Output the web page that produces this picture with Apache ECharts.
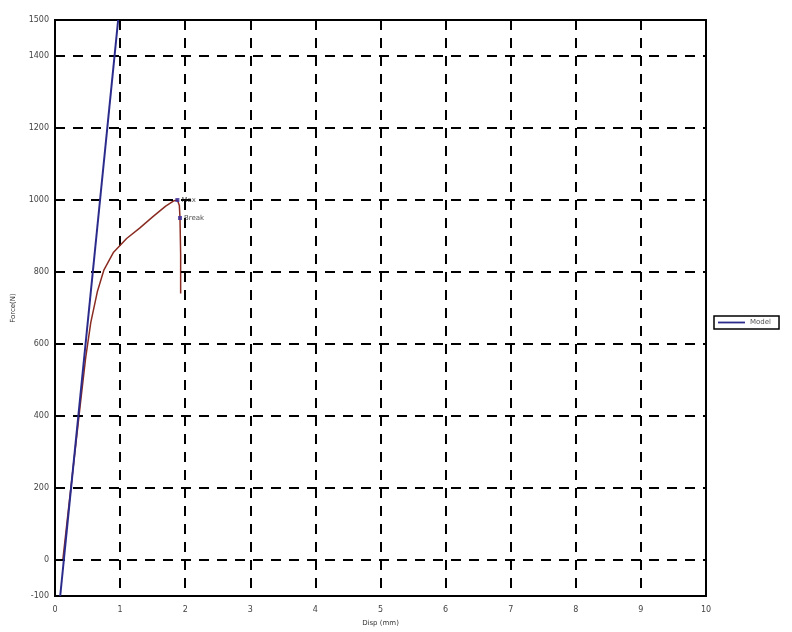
<!DOCTYPE html>
<html>
<head>
<meta charset="utf-8">
<script src="https://cdn.jsdelivr.net/npm/echarts@6/dist/echarts.min.js"></script>
<style>html,body{margin:0;padding:0;background:#fff}#c{width:792px;height:632px}</style>
</head>
<body>
<div id="c"></div>
<script>
// Data
const slopeLine = [[0.08, -100], [0.97, 1500]];
const testCurve = [
  [0.12, 0], [0.2, 130], [0.3, 290], [0.4, 450], [0.47, 560], [0.55, 660],
  [0.65, 745], [0.75, 805], [0.9, 855], [1.1, 893], [1.3, 922], [1.5, 953],
  [1.7, 983], [1.83, 998], [1.88, 1000], [1.91, 985], [1.92, 950], [1.93, 850], [1.93, 740]
];
const annotations = [[1.88, 1000, 'Max'], [1.92, 950, 'Break']];
const yGridValues = [0, 200, 400, 600, 800, 1000, 1200, 1400];
const yLabelValues = [-100, 0, 200, 400, 600, 800, 1000, 1200, 1400, 1500];
const xTicks = [0, 1, 2, 3, 4, 5, 6, 7, 8, 9, 10];

const chart = echarts.init(document.getElementById('c'), null, {renderer: 'canvas'});
const labelStyle = {color: '#444', fontSize: 8, fontFamily: 'DejaVu Sans'};
chart.setOption({
  animation: false,
  backgroundColor: '#fff',
  grid: {left: 55, right: 86, top: 20, bottom: 28, show: true, borderColor: '#000', borderWidth: 2, backgroundColor: '#fff'},
  legend: {
    data: [{name: 'Model', icon: 'path://M0,0 L30,0 L30,2 L0,2 Z'}],
    left: 714, top: 316, itemWidth: 27, itemHeight: 3, itemGap: 4,
    borderColor: '#000', borderWidth: 1.5, padding: [3, 8, 3, 4], borderRadius: 0,
    textStyle: {color: '#555', fontSize: 7, fontFamily: 'DejaVu Sans'}
  },
  xAxis: {
    type: 'value', min: 0, max: 10, interval: 1,
    name: 'Disp (mm)', nameLocation: 'middle', nameGap: 24,
    nameTextStyle: {color: '#333', fontSize: 7, fontFamily: 'DejaVu Sans'},
    axisLine: {show: false}, axisTick: {show: false},
    axisLabel: Object.assign({margin: 10, formatter: v => xTicks.includes(v) ? String(v) : ''}, labelStyle),
    splitLine: {show: true, lineStyle: {color: '#000', width: 2, type: [10, 8]}}
  },
  yAxis: {
    type: 'value', min: -100, max: 1500, interval: 100,
    name: 'Force(N)', nameLocation: 'middle', nameGap: 38,
    nameTextStyle: {color: '#333', fontSize: 7, fontFamily: 'DejaVu Sans'},
    axisLine: {show: false}, axisTick: {show: false},
    axisLabel: Object.assign({margin: 6, formatter: v => yLabelValues.includes(v) ? String(v) : ''}, labelStyle),
    splitLine: {show: false}
  },
  series: [
    {
      name: 'grid', type: 'line', data: [], silent: true,
      markLine: {
        silent: true, symbol: 'none', label: {show: false},
        lineStyle: {color: '#000', width: 2, type: [10, 8]},
        data: yGridValues.map(v => ({yAxis: v}))
      }
    },
    {
      name: 'Model', type: 'line', data: slopeLine, showSymbol: false,
      lineStyle: {color: '#2b2b8c', width: 2}, itemStyle: {color: '#2b2b8c'}, z: 5
    },
    {
      name: 'Test', type: 'line', data: testCurve, showSymbol: false,
      lineStyle: {color: '#8a2c22', width: 1.5}, itemStyle: {color: '#8a2c22'}, z: 4
    },
    {
      name: 'ann', type: 'scatter', data: annotations, symbol: 'rect', symbolSize: 4,
      itemStyle: {color: '#3a2a9a'}, z: 6,
      label: {show: true, position: 'right', distance: 2, formatter: p => p.data[2],
        color: '#222', fontSize: 7, fontFamily: 'DejaVu Sans'}
    }
  ]
});
</script>
</body>
</html>
